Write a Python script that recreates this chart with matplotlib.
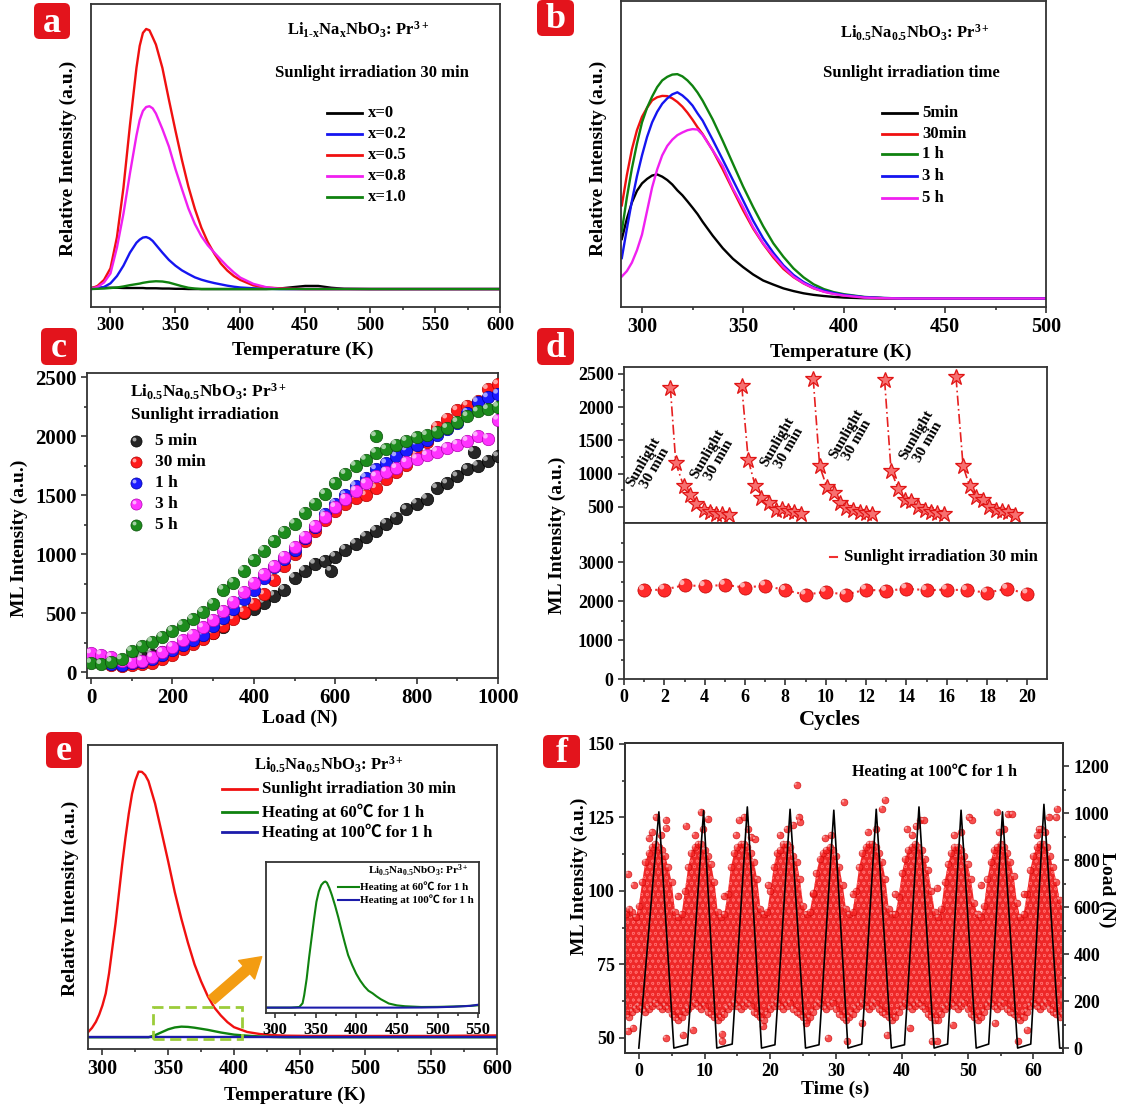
import matplotlib
matplotlib.use('Agg')
import matplotlib.pyplot as plt
import matplotlib.transforms as mtrans
import numpy as np
from matplotlib.lines import Line2D
from matplotlib.patches import FancyBboxPatch, Rectangle
from matplotlib.ticker import MultipleLocator

W, H = 1121, 1110

plt.rcParams['font.family'] = ['Liberation Serif', 'Noto Sans CJK SC', 'DejaVu Sans']
plt.rcParams['font.weight'] = 'bold'
plt.rcParams['axes.labelweight'] = 'bold'
plt.rcParams['mathtext.fontset'] = 'custom'
plt.rcParams['mathtext.rm'] = 'Liberation Serif:bold'
plt.rcParams['mathtext.it'] = 'Liberation Serif:bold'
plt.rcParams['mathtext.bf'] = 'Liberation Serif:bold'
plt.rcParams['mathtext.default'] = 'rm'
plt.rcParams['hatch.linewidth'] = 0.5

FORMULA_A = r'Li$_{1\text{-}x}$Na$_{x}$NbO$_{3}$: Pr$^{3+}$'
FORMULA = r'Li$_{0.5}$Na$_{0.5}$NbO$_{3}$: Pr$^{3+}$'

# ---------------- (a) TL curves vs x ----------------
A_T = [285, 290, 295, 300, 305, 310, 315, 320, 322.5, 325, 327.5, 330, 332.5, 335,
       340, 345, 350, 355, 360, 365, 370, 375, 380, 385, 390, 395, 400, 410, 420,
       430, 440, 450, 460, 470, 480, 500, 550, 600]
A_X0 = [5, 5, 5, 5, 5, 4, 4, 4, 4, 4, 3, 3, 3, 3, 2, 2, 1, 1, 0, 0, 0, 0, 0, 0, 0,
        0, 0, 0, 0, 2, 7, 12, 12, 5, 1, 0, 0, 0]
A_X02 = [0, 3, 8, 22, 50, 90, 140, 178, 190, 198, 200, 195, 185, 170, 140, 112, 90,
         72, 58, 45, 36, 29, 23, 18, 13, 9, 6, 3, 1, 0, 0, 0, 0, 0, 0, 0, 0, 0]
A_X05 = [2, 12, 35, 80, 200, 390, 630, 850, 935, 985, 1000, 995, 968, 940, 850, 728,
         610, 497, 394, 308, 236, 180, 136, 98, 71, 50, 35, 14, 6, 3, 1, 0, 0, 0, 0,
         0, 0, 0]
A_X08 = [1, 8, 25, 60, 160, 290, 445, 590, 650, 685, 700, 703, 695, 675, 615, 548,
         462, 385, 310, 250, 203, 168, 140, 113, 87, 64, 44, 20, 7, 1, 0, 0, 0, 0, 0,
         0, 0, 0]
A_X10 = [0, 1, 2, 4, 6, 10, 15, 19, 21, 24, 26, 28, 29, 30, 29, 25, 18, 11, 5, 2, 0,
         0, 0, 0, 0, 0, 0, 0, 0, 0, 0, 0, 0, 0, 0, 0, 0, 0]
A_LABELS = ['x=0', 'x=0.2', 'x=0.5', 'x=0.8', 'x=1.0']

# ---------------- (b) TL curves vs irradiation time ----------------
B_T = [290, 292.5, 295, 297.5, 300, 302.5, 305, 307.5, 310, 312.5, 315, 317.5, 320,
       322.5, 325, 327.5, 330, 335, 340, 345, 350, 355, 360, 365, 370, 375, 380, 385,
       390, 395, 400, 410, 420, 430, 450, 475, 500]
B_5MIN = [265, 355, 428, 480, 513, 533, 548, 553, 543, 528, 508, 482, 460, 433, 405,
          376, 342, 280, 224, 177, 140, 107, 80, 62, 45, 33, 23, 16, 11, 7, 4, 1, 0,
          0, 0, 0, 0]
B_30MIN = [415, 550, 665, 750, 810, 850, 883, 897, 903, 902, 892, 876, 855, 828, 797,
           763, 733, 660, 575, 484, 394, 312, 243, 183, 132, 95, 67, 45, 31, 21, 14,
           5, 1, 0, 0, 0, 0]
B_1H = [300, 450, 580, 690, 785, 850, 900, 942, 972, 988, 998, 1000, 990, 972, 948,
        918, 882, 798, 702, 601, 500, 408, 322, 246, 186, 134, 94, 63, 42, 28, 19, 7,
        2, 0, 0, 0, 0]
B_3H = [180, 310, 435, 545, 638, 720, 785, 832, 868, 892, 910, 919, 905, 885, 860,
        825, 793, 707, 618, 528, 438, 347, 268, 204, 148, 105, 73, 50, 35, 24, 16, 6,
        2, 0, 0, 0, 0]
B_5H = [98, 122, 160, 215, 285, 390, 495, 575, 638, 680, 708, 728, 740, 750, 755, 753,
        730, 660, 590, 490, 408, 318, 245, 191, 140, 97, 68, 46, 30, 20, 13, 4, 1, 0,
        0, 0, 0]
B_LABELS = ['5min', '30min', '1 h', '3 h', '5 h']

# ---------------- (c) ML intensity vs load ----------------
C_LOAD = list(range(0, 1001, 25))
C_5MIN = [110, 125, 115, 100, 110, 130, 150, 170, 195, 225, 255, 290, 330, 385, 465,
          500, 540, 590, 650, 700, 800, 860, 920, 940, 980, 1040, 1090, 1150, 1200,
          1260, 1310, 1380, 1430, 1470, 1560, 1600, 1660, 1720, 1750, 1790, 1830]
C_30MIN = [90, 80, 60, 55, 60, 70, 80, 110, 150, 200, 240, 280, 330, 390, 450, 510,
           580, 660, 780, 900, 1000, 1110, 1200, 1290, 1370, 1430, 1480, 1500, 1560,
           1640, 1700, 1760, 1850, 1950, 2080, 2150, 2220, 2260, 2300, 2400, 2440]
C_1H = [100, 90, 70, 65, 75, 90, 110, 150, 190, 230, 270, 320, 390, 460, 540, 620,
        700, 800, 890, 960, 1040, 1140, 1230, 1340, 1430, 1500, 1580, 1650, 1720, 1770,
        1830, 1880, 1930, 1970, 2010, 2060, 2110, 2200, 2290, 2330, 2360]
C_3H = [160, 150, 130, 100, 85, 100, 130, 170, 215, 270, 320, 380, 445, 520, 600, 680,
        760, 830, 900, 980, 1060, 1150, 1240, 1320, 1400, 1470, 1540, 1600, 1660, 1700,
        1730, 1780, 1810, 1840, 1870, 1900, 1930, 1960, 2000, 1980, 2140]
C_5H = [80, 70, 90, 110, 180, 220, 260, 300, 350, 400, 450, 510, 580, 700, 760, 860,
        950, 1030, 1110, 1190, 1260, 1350, 1430, 1510, 1600, 1680, 1750, 1800, 1860,
        1890, 1930, 1960, 1990, 2010, 2040, 2070, 2120, 2170, 2210, 2230, 2250]
C_EXTRA_LOAD = [590, 940, 700]
C_EXTRA_VAL = [860, 1870, 2000]
C_EXTRA_SERIES = [0, 0, 4]
C_LABELS = ['5 min', '30 min', '1 h', '3 h', '5 h']

# ---------------- (d) cycling ----------------
D_STAR_X = [
    [2.30, 2.57, 2.96, 3.27, 3.59, 3.95, 4.25, 4.55, 4.87, 5.19],
    [5.84, 6.16, 6.51, 6.81, 7.17, 7.52, 7.82, 8.14, 8.44, 8.76],
    [9.38, 9.70, 10.05, 10.39, 10.71, 11.03, 11.36, 11.68, 11.98, 12.30],
    [12.92, 13.24, 13.59, 13.93, 14.25, 14.57, 14.90, 15.22, 15.52, 15.84],
    [16.46, 16.81, 17.13, 17.43, 17.79, 18.11, 18.44, 18.76, 19.06, 19.38],
]
D_STAR_Y = [
    [2284, 1153, 812, 676, 550, 450, 425, 400, 389, 384],
    [2309, 1204, 812, 641, 560, 450, 475, 440, 425, 389],
    [2425, 1113, 802, 711, 560, 485, 450, 425, 410, 400],
    [2400, 1043, 776, 600, 590, 500, 460, 425, 410, 389],
    [2445, 1113, 812, 651, 600, 500, 450, 440, 425, 384],
]
D_NOTE_X = [1.24, 4.42, 7.88, 11.29, 14.78]
D_NOTE_Y = [1128, 1254, 1430, 1555, 1530]
D_CYCLES = list(range(1, 21))
D_SUN = [2284, 2302, 2414, 2388, 2422, 2353, 2405, 2284, 2172, 2241, 2172, 2302, 2267,
         2328, 2284, 2302, 2284, 2224, 2319, 2198]

# ---------------- (e) heating ----------------
E_T = [289, 292, 295, 297.5, 300, 302.5, 305, 307.5, 310, 312.5, 315, 317.5, 320,
       322.5, 325, 327.5, 330, 332.5, 335, 340, 345, 350, 355, 360, 365, 370, 375,
       380, 385, 390, 395, 400, 410, 420, 430, 440, 460, 500, 550, 600]
E_SUN = [19, 35, 58, 85, 120, 165, 240, 335, 430, 540, 650, 750, 840, 915, 965, 998,
         997, 985, 962, 878, 770, 660, 545, 445, 355, 274, 210, 155, 112, 82, 57, 38,
         20, 12, 8, 6, 5, 5, 5, 7]
E_60C = [0, 0, 0, 0, 0, 0, 0, 0, 0, 0, 0, 0, 0, 0, 0, 0, 0, 0, 0, 8, 19, 30, 37, 40,
         39, 36, 32, 28, 23, 18, 14, 10, 6, 3, 1, 0, 0, 0, 0, 0]
E_100C_T = [289, 600]
E_100C = [0, 0]
E_LABELS = ['Sunlight irradiation 30 min', 'Heating at 60\u2103 for 1 h',
            'Heating at 100\u2103 for 1 h']
INS_T = [289, 320, 330, 334, 336, 339, 342, 345, 348, 351, 354, 357, 360, 362, 364,
         367, 370, 374, 378, 382, 386, 390, 395, 400, 405, 410, 415, 420, 425, 430,
         440, 450, 460, 480, 500, 520, 540, 551]
INS_60C = [0, 0, 5, 35, 100, 230, 400, 553, 705, 845, 930, 980, 1002, 1008, 998, 955,
           900, 815, 720, 615, 515, 420, 340, 270, 215, 170, 135, 115, 90, 68, 33, 18,
           11, 5, 6, 9, 14, 19]
INS_100C_T = [289, 400, 450, 480, 500, 520, 540, 551]
INS_100C = [0, 0, 0, 1, 3, 7, 14, 24]

# ---------------- (f) ML + load vs time ----------------
F_T = np.arange(-2.0, 64.75, 0.5)
F_HI = [92, 94, 93, 91, 95, 103, 110, 113, 115, 116,
        115, 114, 112, 108, 103, 93, 91, 92, 100, 108,
        113, 115, 116, 116, 114, 112, 109, 103, 93, 91,
        92, 99, 108, 113, 115, 116, 116, 115, 113, 110,
        104, 94, 92, 93, 100, 108, 113, 114, 116, 116,
        115, 112, 110, 104, 95, 92, 93, 99, 106, 111,
        113, 114, 115, 114, 112, 108, 102, 94, 92, 93,
        100, 108, 113, 115, 116, 116, 115, 113, 110, 104,
        94, 92, 92, 98, 106, 111, 114, 115, 116, 115,
        114, 111, 107, 100, 93, 91, 94, 103, 109, 113,
        115, 115, 114, 112, 109, 104, 96, 92, 91, 95,
        104, 110, 114, 115, 116, 115, 113, 110, 105, 96,
        91, 92, 99, 107, 112, 115, 116, 116, 115, 112,
        108, 103, 97, 95]
F_LO = [58, 57, 59, 60, 61, 60, 59, 60, 61, 62,
        61, 60, 61, 60, 58, 57, 56, 57, 59, 60,
        61, 62, 61, 60, 61, 59, 58, 57, 56, 57,
        58, 60, 61, 62, 61, 60, 61, 62, 61, 59,
        58, 57, 56, 58, 60, 61, 62, 61, 60, 61,
        62, 60, 59, 58, 57, 56, 57, 59, 61, 62,
        61, 60, 61, 62, 60, 58, 57, 56, 57, 58,
        60, 61, 62, 61, 60, 61, 62, 60, 59, 58,
        57, 56, 57, 59, 61, 62, 61, 60, 61, 62,
        61, 60, 58, 57, 56, 56, 58, 60, 61, 62,
        61, 60, 61, 62, 60, 58, 57, 56, 57, 59,
        61, 62, 61, 60, 61, 62, 60, 59, 58, 57,
        56, 57, 59, 61, 62, 61, 60, 61, 62, 60,
        59, 58, 57, 58]
F_OUT_T = [-1.6, -0.8, 2.6, 4.1, 4.2, 7.2, 9.4, 10.5, 15.3, 16.0, 17.1, 17.7, 23.5,
           24.0, 24.3, 24.5, 31.25, 37.0, 37.5, 40.8, 42.7, 43.3, 50.2, 50.6, 54.5,
           56.1, 56.8, 60.9, 61.8, 62.3, 63.5, 63.6,
           1.5, 2.0, 3.3, 8.5, 9.8, 14.8, 16.6, 21.5, 22.5, 28.3, 29.2, 34.8, 36.0,
           41.6, 42.2, 48.0, 49.0, 54.8, 55.6, 60.5, 61.2,
           -1.6, -0.9, 4.1, 6.7, 8.2, 12.6, 12.7, 18.9, 25.4, 28.8, 31.6, 33.9, 37.8,
           41.2, 44.6, 45.3, 47.7, 54.2, 57.7, 59.1,
           5.9, 12.9, 19.7, 26.5, 32.5, 39.0, 45.3, 52.0, 58.6]
F_OUT_Y = [105.8, 101.9, 125.0, 124.2, 121.4, 122.2, 126.9, 124.5, 124.2, 125.1,
           118.2, 117.6, 122.4, 136.0, 125.0, 123.5, 130.1, 128.0, 131.0, 121.0, 124.0,
           124.0, 125.0, 124.0, 127.0, 126.0, 126.0, 120.9, 120.0, 125.1, 125.0, 128.0,
           118, 120, 119, 119, 121, 119, 121, 119, 121, 118, 119, 120, 121, 119, 122,
           119, 120, 120, 121, 119, 121,
           52.3, 53.4, 50.0, 51.1, 52.8, 51.5, 48.9, 54.0, 55.0, 50.0, 48.9, 55.0, 51.0,
           53.4, 48.9, 48.9, 54.5, 55.0, 48.9, 52.8,
           98.3, 98.3, 102.0, 99.4, 98.8, 98.8, 101.0, 102.0, 98.8]
LOAD_T = [0, 3.05, 5.33, 7.4, 9.85, 11.86, 14.2, 16.5, 18.66, 20.7, 23.0, 25.35, 27.4,
          29.65, 31.8, 33.9, 36.1, 38.4, 40.4, 42.6, 44.9, 46.95, 49.0, 51.3, 53.2,
          55.3, 57.6, 59.6, 61.6, 64.0, 64.5]
LOAD_N = [0, 1005, 0, 15, 1010, 0, 17, 1026, 0, 14, 1016, 0, 14, 1012, 0, 17, 1016, 0,
          14, 1026, 0, 17, 1012, 0, 17, 1005, 0, 17, 1037, 0, 0]


def box(l, t, r, b):
    return [l / W, 1 - b / H, (r - l) / W, (b - t) / H]


def fx(px):
    return px / W


def fy(py):
    return 1 - py / H


fig = plt.figure(figsize=(W / 100, H / 100), dpi=100)
fig.patch.set_facecolor('white')


def style(ax, fs):
    for s in ax.spines.values():
        s.set_linewidth(1.3)
        s.set_color('#333333')
    ax.tick_params(which='both', direction='out', top=False, right=False,
                   labelsize=fs, width=1.2, color='#333333', pad=3)
    ax.tick_params(which='major', length=4.5)
    ax.tick_params(which='minor', length=2.5)


def labels(ax, xl, xc, yl, yc, fs=14):
    if xl:
        ax.set_xlabel(xl, fontsize=fs, va='center', ha='center')
        ax.xaxis.set_label_coords(*xc)
    if yl:
        ax.set_ylabel(yl, fontsize=fs, va='center', ha='center')
        ax.yaxis.set_label_coords(*yc)


def panel_tag(l, t, r, b, letter):
    p = FancyBboxPatch((fx(l), fy(b)), fx(r) - fx(l), fy(t) - fy(b),
                       boxstyle='round,pad=0,rounding_size=0.005',
                       transform=fig.transFigure, fc='#e3141c', ec='none')
    fig.add_artist(p)
    fig.text(fx((l + r) / 2), fy((t + b) / 2 + 2), letter, color='white',
             fontsize=26, ha='center', va='center')


def line_legend(x0, x1, xt, ys, colors, labs, fs, lw=2.0):
    for y, c, lab in zip(ys, colors, labs):
        fig.add_artist(Line2D([fx(x0), fx(x1)], [fy(y), fy(y)],
                              transform=fig.transFigure, color=c, lw=lw))
        fig.text(fx(xt), fy(y), lab, fontsize=fs, ha='left', va='center')


def spheres(ax, x, y, color, dark, s, alpha=1.0, z=3):
    ax.scatter(x, y, s=s, color=color, edgecolors=dark, linewidths=0.5,
               alpha=alpha, zorder=z)
    d = 0.2 * np.sqrt(s)
    hl = mtrans.offset_copy(ax.transData, fig=fig, x=-d, y=d, units='points')
    ax.scatter(x, y, s=s * 0.15, color='white', alpha=0.6 * alpha,
               edgecolors='none', transform=hl, zorder=z)


# ======== (a)
ax = fig.add_axes(box(91, 4, 500, 307))
a_cols = ['black', '#1515f0', '#f01010', '#f020f0', '#0f820f']
for vals, c in zip([A_X0, A_X02, A_X05, A_X08, A_X10], a_cols):
    ax.plot(A_T, vals, color=c, lw=1.7)
ax.set_xlim(285, 600)
ax.set_ylim(-69, 1096)
ax.set_yticks([])
ax.xaxis.set_major_locator(MultipleLocator(50))
ax.xaxis.set_minor_locator(MultipleLocator(25))
style(ax, 13.5)
labels(ax, 'Temperature (K)', (0.518, -0.142), 'Relative Intensity (a.u.)', (-0.056, 0.49))
fig.text(fx(358), fy(30), FORMULA_A, fontsize=12, ha='center', va='center')
fig.text(fx(372), fy(73), 'Sunlight irradiation 30 min', fontsize=12, ha='center', va='center')
line_legend(327, 362, 368, [113, 134, 155, 176, 197], a_cols, A_LABELS, 12)
panel_tag(34, 3, 70, 39, 'a')

# ======== (b)
ax = fig.add_axes(box(621, 1, 1046, 307))
b_cols = ['black', '#f01010', '#0f820f', '#1515f0', '#f020f0']
for vals, c in zip([B_5MIN, B_30MIN, B_1H, B_3H, B_5H], b_cols):
    ax.plot(B_T, vals, color=c, lw=1.7)
ax.set_xlim(289.6, 500)
ax.set_ylim(-38, 1326)
ax.set_yticks([])
ax.xaxis.set_major_locator(MultipleLocator(50))
ax.xaxis.set_minor_locator(MultipleLocator(25))
style(ax, 14.5)
labels(ax, 'Temperature (K)', (0.518, -0.147), 'Relative Intensity (a.u.)', (-0.054, 0.485))
fig.text(fx(915), fy(33), FORMULA, fontsize=12, ha='center', va='center')
fig.text(fx(911), fy(73), 'Sunlight irradiation time', fontsize=12, ha='center', va='center')
line_legend(882, 917, 922, [113, 134, 154, 176, 198], b_cols, B_LABELS, 12)
panel_tag(537, 0, 574, 36, 'b')

# ======== (c)
ax = fig.add_axes(box(87, 373, 498, 678))
c_cols = ['#262626', '#ff1a1a', '#1a1aff', '#ff33ff', '#1d8c1d']
c_dark = ['#000000', '#b00000', '#0000a0', '#b000b0', '#0d500d']
c_series = [C_5MIN, C_30MIN, C_1H, C_3H, C_5H]
for k in [0, 1, 2, 3, 4]:
    spheres(ax, C_LOAD, c_series[k], c_cols[k], c_dark[k], 80, z=3 + k)
for lx, ly, k in zip(C_EXTRA_LOAD, C_EXTRA_VAL, C_EXTRA_SERIES):
    spheres(ax, [lx], [ly], c_cols[k], c_dark[k], 80, z=3 + k)
ax.set_xlim(-10, 1000)
ax.set_ylim(-48, 2536)
ax.xaxis.set_major_locator(MultipleLocator(200))
ax.xaxis.set_minor_locator(MultipleLocator(100))
ax.yaxis.set_major_locator(MultipleLocator(500))
ax.yaxis.set_minor_locator(MultipleLocator(250))
style(ax, 15)
labels(ax, 'Load (N)', (0.518, -0.131), 'ML Intensity (a.u.)', (-0.164, 0.457))
fig.text(fx(208), fy(392), FORMULA, fontsize=12.5, ha='center', va='center')
fig.text(fx(205), fy(415), 'Sunlight irradiation', fontsize=12.5, ha='center', va='center')
for y, c, dk, lab in zip([441, 462, 483, 504, 525], c_cols, c_dark, C_LABELS):
    fig.add_artist(Line2D([fx(136)], [fy(y)], transform=fig.transFigure, marker='o',
                          ms=8, mfc=c, mec=dk, mew=0.5, ls='none'))
    fig.add_artist(Line2D([fx(134)], [fy(y - 2)], transform=fig.transFigure, marker='o',
                          ms=2.8, mfc='white', mec='none', alpha=0.6, ls='none'))
    fig.text(fx(155), fy(y), lab, fontsize=12.5, ha='left', va='center')
panel_tag(41, 328, 77, 365, 'c')

# ======== (d)
axu = fig.add_axes(box(624, 367, 1047, 523))
axl = fig.add_axes(box(624, 523, 1047, 679))
for xs, ys in zip(D_STAR_X, D_STAR_Y):
    axu.plot(xs, ys, color='#e62020', lw=1.2, ls=(0, (6, 2, 1, 2)),
             marker='*', ms=12, mfc='#f77070', mec='#e01515', mew=0.9)
for nx, ny in zip(D_NOTE_X, D_NOTE_Y):
    axu.text(nx, ny, 'Sunlight\n30 min', rotation=60, ha='center', va='center',
             fontsize=11, linespacing=1.0, multialignment='center')
axu.set_xlim(0, 20.97)
axu.set_ylim(259, 2601)
axu.set_xticks([1.6, 3.25, 4.87, 6.48, 8.1, 9.72, 11.33, 12.95, 14.57, 16.18, 17.8, 19.42])
axu.set_xticklabels([])
axu.yaxis.set_major_locator(MultipleLocator(500))
axu.yaxis.set_minor_locator(MultipleLocator(250))
style(axu, 13)
axl.plot(D_CYCLES, D_SUN, color='#f03030', lw=1.5, ls=':', zorder=2)
spheres(axl, D_CYCLES, D_SUN, '#ff2a2a', '#c00000', 90, z=3)
axl.set_xlim(0, 20.97)
axl.set_ylim(0, 4015)
axl.xaxis.set_major_locator(MultipleLocator(2))
axl.xaxis.set_minor_locator(MultipleLocator(1))
axl.set_yticks([0, 1000, 2000, 3000])
axl.set_yticks([500, 1500, 2500, 3500], minor=True)
style(axl, 13)
axl.set_xlabel('Cycles', fontsize=16, va='center', ha='center')
axl.xaxis.set_label_coords(0.487, -0.263)
fig.text(fx(557), fy(535), 'ML Intensity (a.u.)', rotation=90, fontsize=14,
         ha='center', va='center')
fig.add_artist(Line2D([fx(830), fx(837)], [fy(557), fy(557)], transform=fig.transFigure,
                      color='#f03030', lw=1.5))
fig.text(fx(844), fy(557), 'Sunlight irradiation 30 min', fontsize=12, ha='left', va='center')
panel_tag(537, 328, 574, 365, 'd')

# ======== (e)
ax = fig.add_axes(box(88, 745, 497, 1049))
e_cols = ['#f01010', '#0f820f', '#1c1caa']
ax.plot(E_T, E_SUN, color=e_cols[0], lw=1.7)
ax.plot(E_T, E_60C, color=e_cols[1], lw=1.7)
ax.plot(E_100C_T, E_100C, color=e_cols[2], lw=1.7)
ax.set_xlim(289, 600)
ax.set_ylim(-44, 1098)
ax.set_yticks([])
ax.xaxis.set_major_locator(MultipleLocator(50))
ax.xaxis.set_minor_locator(MultipleLocator(25))
style(ax, 14.5)
labels(ax, 'Temperature (K)', (0.505, -0.151), 'Relative Intensity (a.u.)', (-0.043, 0.495))
ax.add_patch(Rectangle((338.4, -6), 67.7, 121, fill=False, ec='#9ccc3a', lw=2,
                       ls=(0, (4, 2)), zorder=5))
fig.text(fx(329), fy(765), FORMULA, fontsize=12, ha='center', va='center')
line_legend(222, 257, 262, [789, 812, 832], e_cols, E_LABELS, 12)
ax.annotate('', xy=(fx(261.7), fy(956.7)), xycoords='figure fraction',
            xytext=(fx(211.7), fy(1000)), textcoords='figure fraction',
            arrowprops=dict(arrowstyle='simple,head_length=0.9,head_width=1.1,tail_width=0.45',
                            color='#f39c12', mutation_scale=16, shrinkA=0, shrinkB=0))
ins = fig.add_axes(box(266, 862, 479, 1013))
ins.plot(INS_T, INS_60C, color=e_cols[1], lw=1.5)
ins.plot(INS_100C_T, INS_100C, color=e_cols[2], lw=1.5)
ins.set_xlim(289, 551)
ins.set_ylim(-43, 1164)
ins.set_yticks([])
ins.xaxis.set_major_locator(MultipleLocator(50))
ins.xaxis.set_minor_locator(MultipleLocator(25))
style(ins, 12)
ins.tick_params(which='major', length=3.5)
fig.text(fx(418), fy(871), FORMULA, fontsize=8, ha='center', va='center')
line_legend(338, 359, 360, [887, 900], e_cols[1:], E_LABELS[1:], 8, lw=1.5)
panel_tag(46, 732, 82, 768, 'e')

# ======== (f)
ax = fig.add_axes(box(625, 743, 1063, 1053))
ax.fill_between(F_T, F_LO, F_HI, facecolor='#ee1c1c', edgecolor='#ff6a6a', hatch='ooo',
                linewidth=0, alpha=0.95, zorder=2)
spheres(ax, F_T, F_HI, '#f52424', '#c80000', 24, alpha=0.75)
spheres(ax, F_T, F_LO, '#f52424', '#c80000', 24, alpha=0.75)
spheres(ax, F_OUT_T, F_OUT_Y, '#f52424', '#c80000', 24, alpha=0.8)
ax.set_xlim(-2.1, 64.5)
ax.set_ylim(44.9, 150.3)
ax.xaxis.set_major_locator(MultipleLocator(10))
ax.xaxis.set_minor_locator(MultipleLocator(5))
ax.yaxis.set_major_locator(MultipleLocator(25))
ax.yaxis.set_minor_locator(MultipleLocator(12.5))
style(ax, 13)
labels(ax, 'Time (s)', (0.479, -0.116), 'ML Intensity (a.u.)', (-0.104, 0.571))
ax2 = ax.twinx()
ax2.plot(LOAD_T, LOAD_N, color='black', lw=1.2)
ax2.set_ylim(-21, 1298)
ax2.yaxis.set_major_locator(MultipleLocator(200))
ax2.yaxis.set_minor_locator(MultipleLocator(100))
for s in ax2.spines.values():
    s.set_linewidth(1.3)
    s.set_color('#333333')
ax2.tick_params(which='both', direction='out', labelsize=13, width=1.2, color='#333333', pad=3)
ax2.tick_params(which='major', length=4.5)
ax2.tick_params(which='minor', length=2.5)
ax2.set_ylabel('Load (N)', fontsize=14, rotation=-90, va='center', ha='center')
ax2.yaxis.set_label_coords(1.10, 0.527)
fig.text(fx(935), fy(772), 'Heating at 100\u2103 for 1 h', fontsize=11.5, ha='center', va='center')
panel_tag(543, 735, 580, 768, 'f')

fig.savefig('out.png', dpi=100)
